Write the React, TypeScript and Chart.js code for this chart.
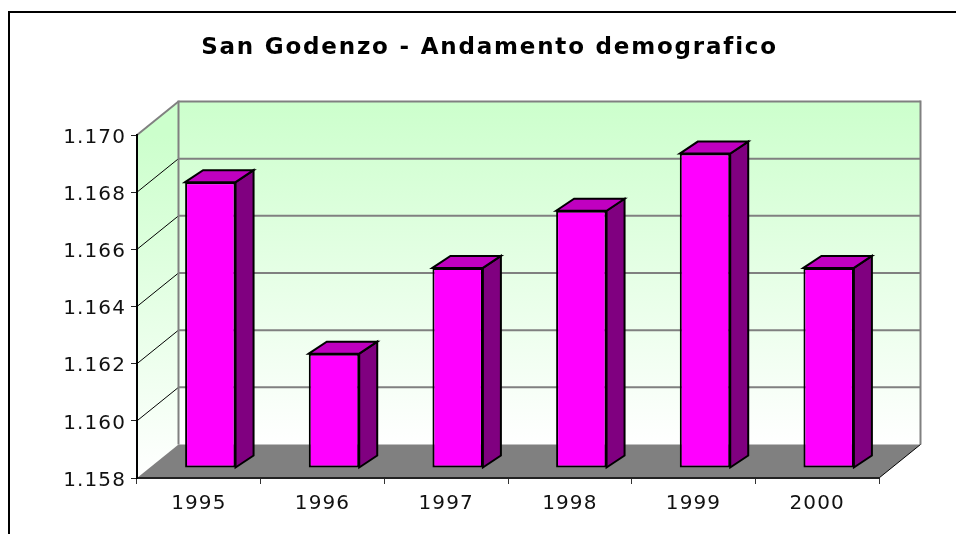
import React, { useEffect, useRef } from "react";
import { Chart, registerables } from "chart.js";

Chart.register(...registerables);

const years = ["1995", "1996", "1997", "1998", "1999", "2000"];
const population = [1168, 1162, 1165, 1167, 1169, 1165];
const axisMin = 1158;
const axisMax = 1170;
const axisStep = 2;
const chartTitle = "San Godenzo - Andamento demografico";

const FONT = "'DejaVu Sans', Verdana, sans-serif";
const WALL_DX = 41.5;
const WALL_DY = -33.5;
const BAR_SHIFT_X = 11.5;
const BAR_SHIFT_Y = -10;
const BAR_DX = 18;
const BAR_DY = -12;
const TITLE_SPACING = "1.8px";
const LABEL_SPACING = "1.1px";
const Y_LABEL_NUDGE = 2.5;

const poly = (ctx: CanvasRenderingContext2D, pts: number[][], fill: any, stroke?: string, lw = 1) => {
  ctx.beginPath();
  pts.forEach(([x, y], i) => (i ? ctx.lineTo(x, y) : ctx.moveTo(x, y)));
  ctx.closePath();
  if (fill) {
    ctx.fillStyle = fill;
    ctx.fill();
  }
  if (stroke) {
    ctx.strokeStyle = stroke;
    ctx.lineWidth = lw;
    ctx.lineJoin = "miter";
    ctx.stroke();
  }
};

const line = (ctx: CanvasRenderingContext2D, x1: number, y1: number, x2: number, y2: number, color: string, lw: number) => {
  ctx.beginPath();
  ctx.moveTo(x1, y1);
  ctx.lineTo(x2, y2);
  ctx.strokeStyle = color;
  ctx.lineWidth = lw;
  ctx.stroke();
};

const scene3d = {
  id: "scene3d",
  afterLayout(chart: any) {
    const block = chart.titleBlock;
    if (block && !block.__patched) {
      block.__patched = true;
      // Title is centred 20px right of the layout box centre, and is letter-spaced
      block.left += 20;
      block.right += 20;
      const draw = block.draw;
      block.draw = function (...args: any[]) {
        chart.ctx.letterSpacing = TITLE_SPACING;
        draw.apply(this, args);
        chart.ctx.letterSpacing = LABEL_SPACING;
      };
    }
    const yScale = chart.scales.y;
    if (yScale && !yScale.__patched) {
      yScale.__patched = true;
      const drawLabels = yScale.drawLabels;
      yScale.drawLabels = function (...args: any[]) {
        chart.ctx.save();
        chart.ctx.translate(0, Y_LABEL_NUDGE);
        drawLabels.apply(this, args);
        chart.ctx.restore();
      };
    }
  },
  beforeDraw(chart: any) {
    const { ctx, chartArea: a, scales } = chart;
    const { left: l, right: r, top: t, bottom: b } = a;
    const dx = WALL_DX;
    const dy = WALL_DY;
    ctx.letterSpacing = LABEL_SPACING;
    ctx.save();

    // Frame of the picture
    ctx.beginPath();
    ctx.moveTo(9, chart.height);
    ctx.lineTo(9, 12);
    ctx.lineTo(chart.width, 12);
    ctx.strokeStyle = "#000";
    ctx.lineWidth = 2;
    ctx.stroke();

    // Walls
    const backGrad = ctx.createLinearGradient(0, t + dy, 0, b + dy);
    backGrad.addColorStop(0, "#ccffcc");
    backGrad.addColorStop(1, "#ffffff");
    poly(ctx, [[l + dx, t + dy], [r + dx, t + dy], [r + dx, b + dy], [l + dx, b + dy]], backGrad);
    const sideGrad = ctx.createLinearGradient(0, t, 0, b);
    sideGrad.addColorStop(0, "#ccffcc");
    sideGrad.addColorStop(1, "#ffffff");
    poly(ctx, [[l, t], [l + dx, t + dy], [l + dx, b + dy], [l, b]], sideGrad);

    // Gridlines on walls, taken from the value scale
    const y = scales.y;
    y.ticks.forEach((tick: any) => {
      const py = y.getPixelForValue(tick.value);
      if (tick.value === axisMin) return;
      const isTop = tick.value === axisMax;
      line(ctx, l, py, l + dx, py + dy, isTop ? "#808080" : "#000", isTop ? 2 : 1);
      line(ctx, l + dx, py + dy, r + dx, py + dy, "#808080", 2);
    });

    // Wall edges
    line(ctx, l + dx, t + dy - 1, l + dx, b + dy, "#808080", 2);
    line(ctx, r + dx, t + dy - 1, r + dx, b + dy, "#808080", 2);

    // Floor
    poly(ctx, [[l, b], [l + dx, b + dy], [r + dx, b + dy], [r, b]], "#808080");
    line(ctx, r, b, r + dx, b + dy, "#000", 1);
    ctx.restore();
  },
  beforeDatasetsDraw(chart: any) {
    const { ctx } = chart;
    const meta = chart.getDatasetMeta(0);
    ctx.save();
    ctx.translate(BAR_SHIFT_X, BAR_SHIFT_Y);
    meta.data.forEach((bar: any) => {
      const { x, y, width, base } = bar.getProps(["x", "y", "width", "base"], true);
      const left = x - width / 2;
      const right = x + width / 2;
      poly(ctx, [[right, y], [right + BAR_DX, y + BAR_DY], [right + BAR_DX, base + BAR_DY], [right, base]], "#800080", "#000", 2);
      poly(ctx, [[left, y], [left + BAR_DX, y + BAR_DY], [right + BAR_DX, y + BAR_DY], [right, y]], "#c000c0", "#000", 2);
    });
    ctx.restore();
  },
  beforeDatasetDraw(chart: any) {
    chart.ctx.save();
    chart.ctx.translate(BAR_SHIFT_X, BAR_SHIFT_Y);
  },
  afterDatasetDraw(chart: any) {
    chart.ctx.restore();
  },
};

export default function App() {
  const ref = useRef<HTMLCanvasElement>(null);
  useEffect(() => {
    const chart = new Chart(ref.current as HTMLCanvasElement, {
      type: "bar",
      plugins: [scene3d],
      data: {
        labels: years,
        datasets: [
          {
            data: population,
            base: axisMin,
            backgroundColor: "#ff00ff",
            borderColor: "#000",
            borderWidth: 2,
            borderSkipped: false,
            barPercentage: 0.408,
            categoryPercentage: 1,
            clip: false,
          } as any,
        ],
      },
      options: {
        responsive: false,
        animation: false,
        layout: { padding: { left: 60, right: 77, top: 0, bottom: 0 } },
        plugins: {
          legend: { display: false },
          tooltip: { enabled: false },
          title: {
            display: true,
            text: chartTitle,
            color: "#000",
            font: { family: FONT, size: 23, weight: "bold" },
            padding: { top: 34, bottom: 73.4 },
          },
        },
        scales: {
          x: {
            offset: true,
            grid: { display: true, drawOnChartArea: false, tickLength: 6, offset: true, color: "#333" },
            border: { color: "#222", width: 2 },
            ticks: { color: "#111", font: { family: FONT, size: 20 }, padding: 8, maxRotation: 0 },
            afterFit(scale: any) {
              scale.height = 56;
            },
          },
          y: {
            min: axisMin,
            max: axisMax,
            grid: { display: true, drawOnChartArea: false, tickLength: 6, color: "#222" },
            border: { color: "#000", width: 2 },
            ticks: {
              stepSize: axisStep,
              color: "#111",
              font: { family: FONT, size: 20 },
              padding: 5,
              callback: (v: any) => {
                const n = Number(v);
                return `${Math.floor(n / 1000)}.${String(n % 1000).padStart(3, "0")}`;
              },
            },
            afterFit(scale: any) {
              scale.width = 77;
            },
          },
        },
      } as any,
    });
    return () => chart.destroy();
  }, []);
  return (
    <canvas
      ref={ref}
      width={956}
      height={534}
      style={{ position: "absolute", left: 0, top: 0, display: "block" }}
    />
  );
}
